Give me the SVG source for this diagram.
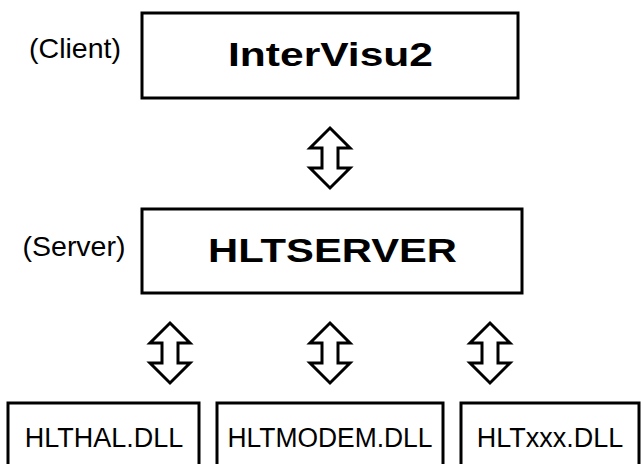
<svg xmlns="http://www.w3.org/2000/svg" width="643" height="464" viewBox="0 0 643 464">
<style>
.box{fill:#fff;stroke:#000;stroke-width:3}
.arr{fill:#fff;stroke:#000;stroke-width:3;stroke-linejoin:miter}
.big{font-family:"Liberation Sans",Arial,sans-serif;font-weight:bold;font-size:34px}
.sm{font-family:"Liberation Sans",Arial,sans-serif;font-size:27px;text-anchor:middle}
.lbl{font-family:"Liberation Sans",Arial,sans-serif;font-size:28.5px;text-anchor:middle}
</style>
<defs>
<path id="dbl" class="arr" d="M0,0 L20,20 L8,20 L8,40 L20,40 L0,60 L-20,40 L-8,40 L-8,20 L-20,20 Z"/>
</defs>
<rect width="643" height="464" fill="#fff"/>
<g id="client-label"><text class="lbl" x="75" y="58">(Client)</text></g>
<g id="intervisu2"><rect class="box" x="142" y="13" width="376" height="85"/><text class="big" x="228" y="66" textLength="205" lengthAdjust="spacingAndGlyphs">InterVisu2</text></g>
<g id="server-label"><text class="lbl" x="74" y="256">(Server)</text></g>
<g id="hltserver"><rect class="box" x="142" y="209" width="380" height="84"/><text class="big" x="208" y="262" textLength="249" lengthAdjust="spacingAndGlyphs">HLTSERVER</text></g>
<g id="hlthal"><rect class="box" x="8" y="403" width="191" height="70"/><text class="sm" x="104" y="447">HLTHAL.DLL</text></g>
<g id="hltmodem"><rect class="box" x="217" y="403" width="226" height="70"/><text class="sm" x="330" y="447" textLength="205" lengthAdjust="spacingAndGlyphs">HLTMODEM.DLL</text></g>
<g id="hltxxx"><rect class="box" x="461" y="403" width="178" height="70"/><text class="sm" x="550" y="447">HLTxxx.DLL</text></g>
<g id="connectors">
<use href="#dbl" x="330" y="128"/>
<use href="#dbl" x="170" y="323"/>
<use href="#dbl" x="330" y="323"/>
<use href="#dbl" x="490" y="323"/>
</g>
</svg>
